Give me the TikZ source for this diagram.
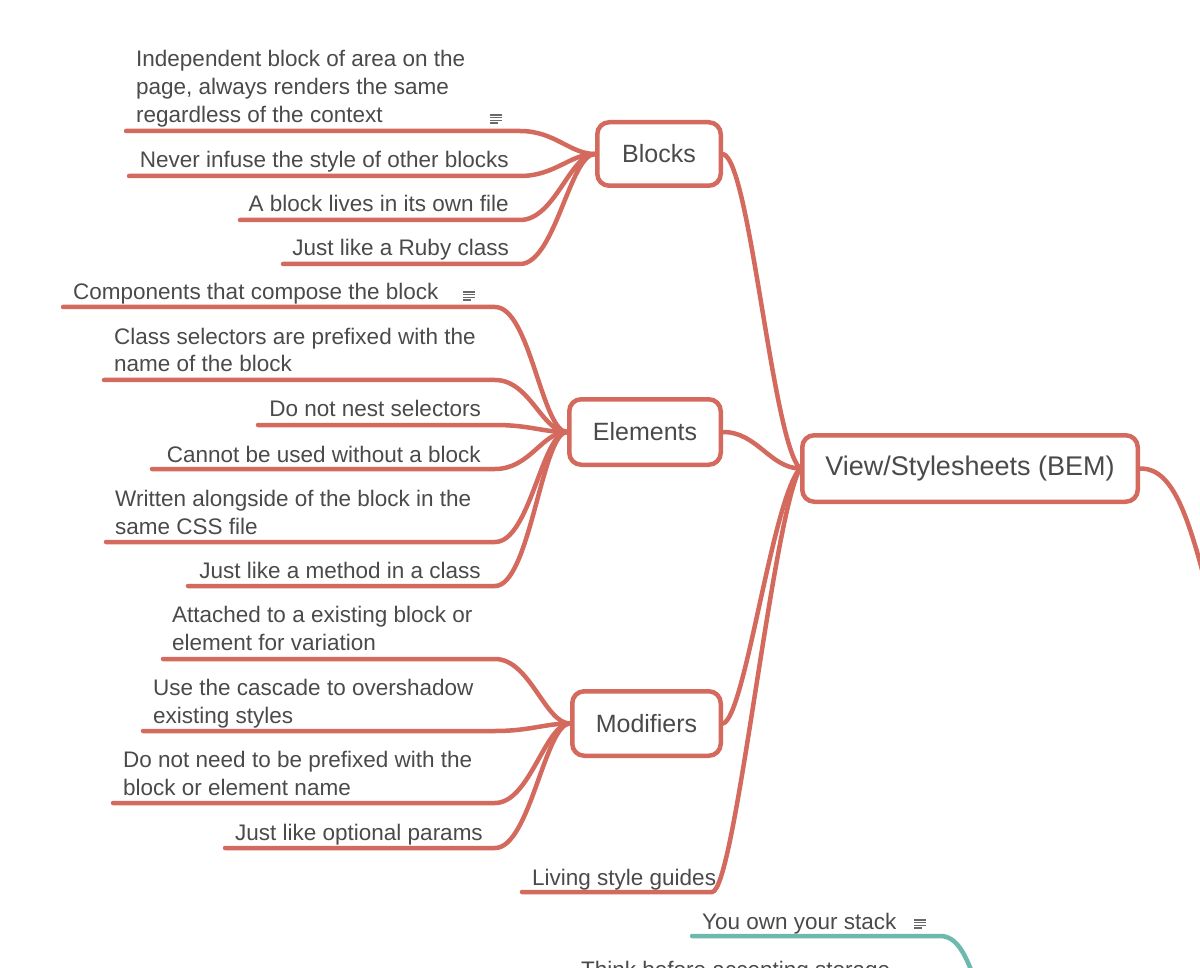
\documentclass[tikz,border=0pt]{standalone}
\usepackage{fontspec}
\setmainfont{Liberation Sans}
\definecolor{br}{HTML}{D4695E}
\definecolor{tl}{HTML}{6DB9AE}
\definecolor{tx}{HTML}{4A4A4A}
\definecolor{ic}{HTML}{6A6A6A}
\newcommand{\mlines}[1]{\begin{tabular}[b]{@{}l@{}}#1\end{tabular}}
\begin{document}
\begin{tikzpicture}[x=1pt,y=-1pt,
  topic/.style={draw=br, line width=4.5pt, rounded corners=12pt, text=tx,
    font=\fontsize{25}{30}\selectfont, inner sep=0pt, fill=white},
  leaf/.style={text=tx, font=\fontsize{22.5}{28}\selectfont, inner sep=0pt},
  link/.style={draw=br, line width=4.5pt, line cap=round},
  tlink/.style={draw=tl, line width=4.5pt, line cap=round},
  noteicon/.pic={\draw[ic, line width=1.2pt] (-6,-4)--(6,-4) (-6,-1.3)--(6,-1.3) (-6,1.4)--(6,1.4) (-6,4)--(2,4);}
]
\useasboundingbox (0,0) rectangle (1200,968);
\clip (0,0) rectangle (1200,968);

% ---------- topic nodes ----------
\node[topic, minimum width=335.5pt, minimum height=66.5pt, font=\fontsize{27}{32}\selectfont] (root) at (970,468.5) {View/Stylesheets (BEM)};
\node[topic, minimum width=123.5pt, minimum height=63.5pt] (blocks) at (659,154) {Blocks};
\node[topic, minimum width=151.5pt, minimum height=65.5pt] (elements) at (645,432) {Elements};
\node[topic, minimum width=148.5pt, minimum height=64.5pt] (modifiers) at (646.5,723.5) {Modifiers};

% ---------- branches from root ----------
\draw[link] (blocks.east) .. controls (750,160) and (772,440) .. (root.west);
\draw[link] (elements.east) .. controls (757,432) and (770,468) .. (root.west);
\draw[link] (modifiers.east) .. controls (745,718) and (772,500) .. (root.west);
\coordinate (ls) at (522,892);
\coordinate (le) at (712,892);
\draw[link] (ls) -- (le) .. controls (735,892) and (772,520) .. (root.west);
\coordinate (rootout) at (1215,620);
\draw[link] (root.east) .. controls (1175,468) and (1190,520) .. (rootout);

% ---------- Blocks leaves ----------
\node[leaf, anchor=base west] (b1) at (136,123) {\mlines{Independent block of area on the\\page, always renders the same\\regardless of the context}};
\pic at (496,119) {noteicon};
\node[leaf, anchor=base east] (b2) at (509,168) {Never infuse the style of other blocks};
\node[leaf, anchor=base east] (b3) at (509,212) {A block lives in its own file};
\node[leaf, anchor=base east] (b4) at (509,256) {Just like a Ruby class};
\foreach \n/\xs/\yy in {b1/126/131, b2/129/176, b3/240/220, b4/283/264}{
  \coordinate (\n s) at (\xs,\yy);
  \coordinate (\n e) at (520,\yy);
  \draw[link] (\n s) -- (\n e) .. controls +(35,0) and +(-25,0) .. (blocks.west);
}

% ---------- Elements leaves ----------
\node[leaf, anchor=base west] (e1) at (73,300) {Components that compose the block};
\pic at (469,296) {noteicon};
\node[leaf, anchor=base west] (e2) at (114,372) {\mlines{Class selectors are prefixed with the\\name of the block}};
\node[leaf, anchor=base east] (e3) at (481,417) {Do not nest selectors};
\node[leaf, anchor=base east] (e4) at (481,462) {Cannot be used without a block};
\node[leaf, anchor=base west] (e5) at (115,534) {\mlines{Written alongside of the block in the\\same CSS file}};
\node[leaf, anchor=base east] (e6) at (481,578) {Just like a method in a class};
\foreach \n/\xs/\yy in {e1/63/307, e2/104/380, e3/258/425, e4/152/469, e5/106/542, e6/188/586}{
  \coordinate (\n s) at (\xs,\yy);
  \coordinate (\n e) at (495,\yy);
  \draw[link] (\n s) -- (\n e) .. controls +(35,0) and +(-25,0) .. (elements.west);
}

% ---------- Modifiers leaves ----------
\node[leaf, anchor=base west] (m1) at (172,650) {\mlines{Attached to a existing block or\\element for variation}};
\node[leaf, anchor=base west] (m2) at (153,723) {\mlines{Use the cascade to overshadow\\existing styles}};
\node[leaf, anchor=base west] (m3) at (123,795) {\mlines{Do not need to be prefixed with the\\block or element name}};
\node[leaf, anchor=base east] (m4) at (483,840) {Just like optional params};
\foreach \n/\xs/\yy in {m1/163/659, m2/143/731, m3/113/803, m4/225/848}{
  \coordinate (\n s) at (\xs,\yy);
  \coordinate (\n e) at (495,\yy);
  \draw[link] (\n s) -- (\n e) .. controls +(35,0) and +(-25,0) .. (modifiers.west);
}

% ---------- Living style guides ----------
\node[leaf, anchor=base west] (living) at (532,885) {Living style guides};

% ---------- teal branch (cut off) ----------
\node[leaf, anchor=base west] (own) at (702,929) {You own your stack};
\pic at (920,924) {noteicon};
\coordinate (ts) at (692,936);
\coordinate (te) at (940,936);
\coordinate (tout) at (978,990);
\draw[tlink] (ts) -- (te) .. controls (956,936) and (966,952) .. (tout);
\node[leaf, anchor=base west] (think) at (581,977) {Think before accepting storage};
\end{tikzpicture}
\end{document}
